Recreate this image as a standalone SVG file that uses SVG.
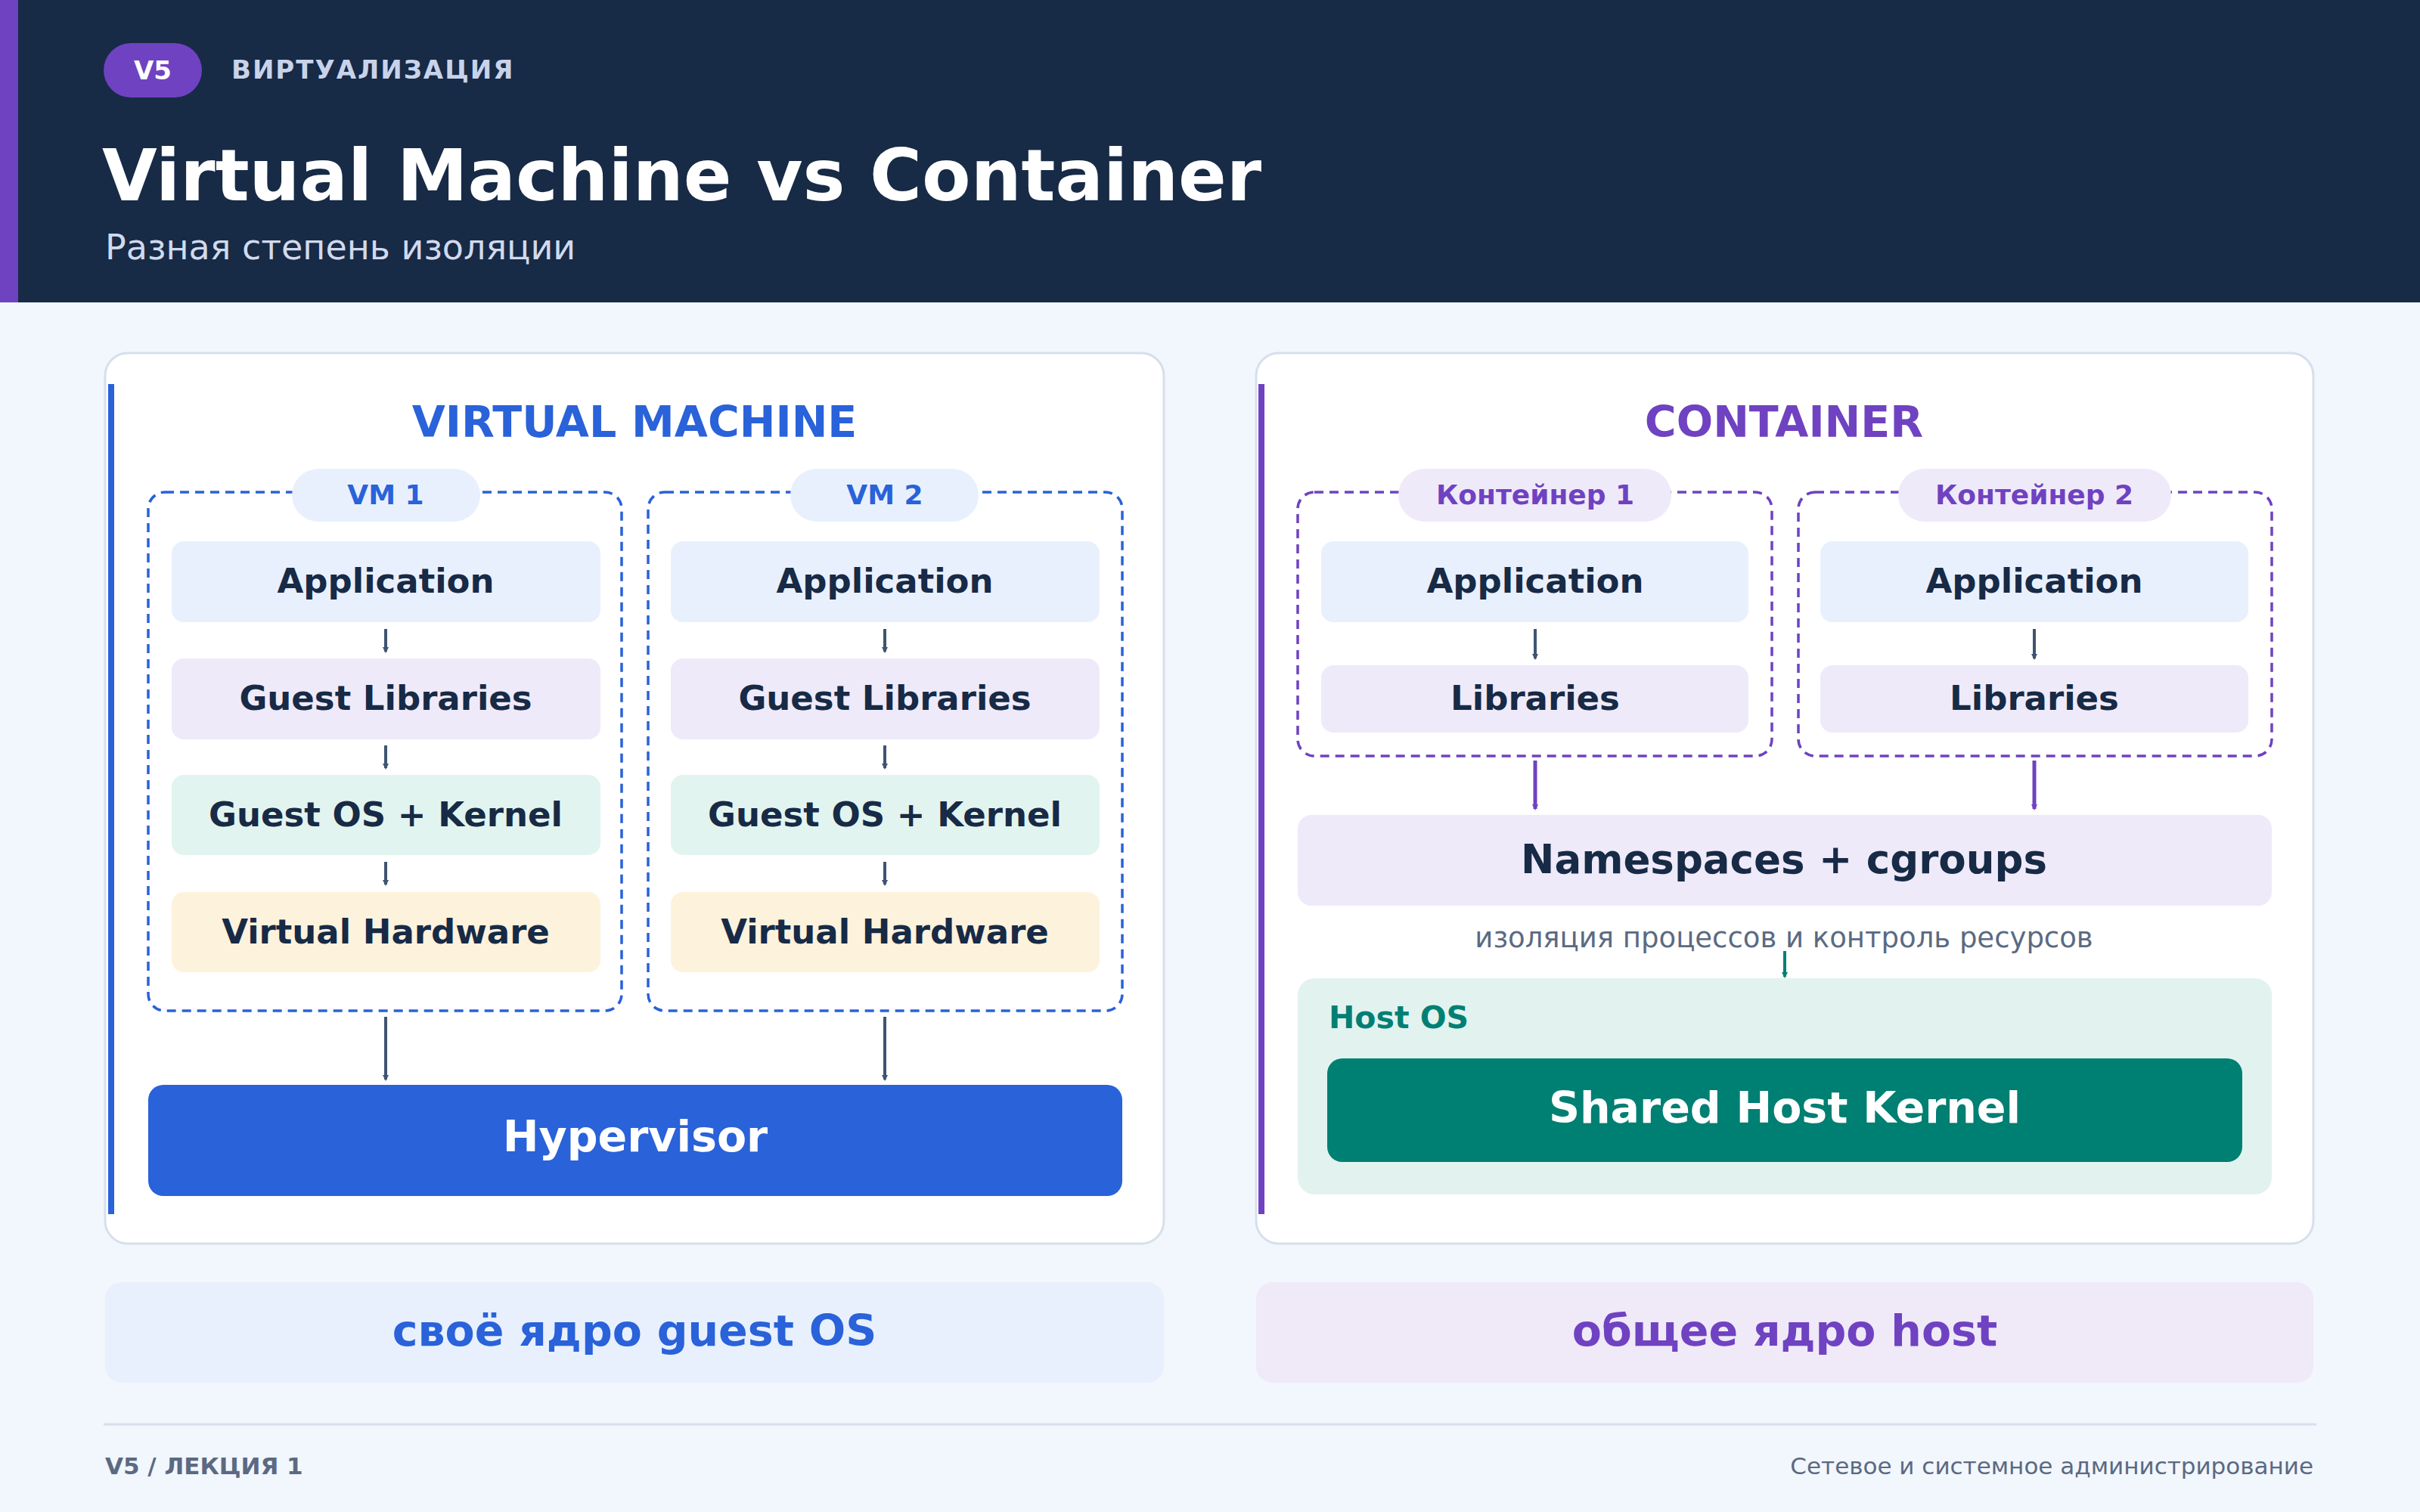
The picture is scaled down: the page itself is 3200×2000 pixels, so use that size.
<svg xmlns="http://www.w3.org/2000/svg" width="3200" height="2000" viewBox="0 0 3200 2000">
<style>
text{font-family:"DejaVu Sans","Noto Sans",sans-serif}
.b{font-weight:bold}
.lay{font-weight:bold;font-size:45px;fill:#172a46;text-anchor:middle}
.panel{fill:#fff;stroke:#d6dfec;stroke-width:3}
.dashB{fill:none;stroke:#2962d9;stroke-width:3.5;stroke-dasharray:12 8}
.dashP{fill:none;stroke:#6f42c1;stroke-width:3.5;stroke-dasharray:12 8}
.app{fill:#e9f0fd}.lib{fill:#efeaf9}.os{fill:#e2f4ef}.hw{fill:#fdf2dc}
.sa{stroke:#3f5472;stroke-width:4;marker-end:url(#ag)}
</style>
<defs>
<marker id="ag" markerWidth="8" markerHeight="8" refX="6" refY="4" orient="auto" markerUnits="userSpaceOnUse" viewBox="0 0 8 8"><path d="M0,0 L8,4 L0,8Z" fill="#3f5472"/></marker>
<marker id="agp" markerWidth="8" markerHeight="8" refX="6" refY="4" orient="auto" viewBox="0 0 8 8" markerUnits="userSpaceOnUse"><path d="M0,0 L8,4 L0,8Z" fill="#6f42c1"/></marker>
<marker id="agt" markerWidth="8" markerHeight="8" refX="6" refY="4" orient="auto" viewBox="0 0 8 8" markerUnits="userSpaceOnUse"><path d="M0,0 L8,4 L0,8Z" fill="#008075"/></marker>
</defs>
<rect width="3200" height="2000" fill="#f2f6fd"/>
<g id="header">
<rect width="3200" height="400" fill="#172a46"/>
<rect width="24" height="400" fill="#6f42c1"/>
<rect x="137" y="57" width="130" height="72" rx="36" fill="#6f42c1"/>
<text x="202" y="105" class="b" font-size="34" fill="#fff" text-anchor="middle">V5</text>
<text x="306" y="104" class="b" font-size="34" fill="#c8d3ea" letter-spacing="2">ВИРТУАЛИЗАЦИЯ</text>
<text x="135" y="265" class="b" font-size="94" fill="#fff">Virtual Machine vs Container</text>
<text x="139" y="343" font-size="46" fill="#d1daec">Разная степень изоляции</text>
</g>
<g id="vm-panel">
<rect class="panel" x="139" y="467" width="1400" height="1178" rx="30"/>
<rect x="143" y="508" width="8" height="1098" fill="#2962d9"/>
<text x="839" y="578" class="b" font-size="57" fill="#2962d9" text-anchor="middle">VIRTUAL MACHINE</text>
</g>
<g id="vm1">
<rect class="dashB" x="196" y="651" width="626" height="686" rx="22"/>
<rect x="386" y="620" width="249" height="70" rx="35" fill="#e9f0fd"/>
<text x="510" y="667" class="b" font-size="36" fill="#2962d9" text-anchor="middle">VM 1</text>
<rect class="app" x="227" y="716" width="567" height="107" rx="16"/><text class="lay" x="510" y="784">Application</text>
<rect class="lib" x="227" y="871" width="567" height="107" rx="16"/><text class="lay" x="510" y="939">Guest Libraries</text>
<rect class="os" x="227" y="1025" width="567" height="106" rx="16"/><text class="lay" x="510" y="1093">Guest OS + Kernel</text>
<rect class="hw" x="227" y="1180" width="567" height="106" rx="16"/><text class="lay" x="510" y="1248">Virtual Hardware</text>
</g>
<g id="vm2">
<rect class="dashB" x="857" y="651" width="627" height="686" rx="22"/>
<rect x="1045" y="620" width="249" height="70" rx="35" fill="#e9f0fd"/>
<text x="1170" y="667" class="b" font-size="36" fill="#2962d9" text-anchor="middle">VM 2</text>
<rect class="app" x="887" y="716" width="567" height="107" rx="16"/><text class="lay" x="1170" y="784">Application</text>
<rect class="lib" x="887" y="871" width="567" height="107" rx="16"/><text class="lay" x="1170" y="939">Guest Libraries</text>
<rect class="os" x="887" y="1025" width="567" height="106" rx="16"/><text class="lay" x="1170" y="1093">Guest OS + Kernel</text>
<rect class="hw" x="887" y="1180" width="567" height="106" rx="16"/><text class="lay" x="1170" y="1248">Virtual Hardware</text>
</g>
<g id="hypervisor">
<rect x="196" y="1435" width="1288" height="147" rx="20" fill="#2962d9"/>
<text x="840" y="1523" class="b" font-size="57" fill="#fff" text-anchor="middle">Hypervisor</text>
</g>
<g id="ct-panel">
<rect class="panel" x="1661" y="467" width="1398" height="1178" rx="30"/>
<rect x="1664" y="508" width="8" height="1098" fill="#6f42c1"/>
<text x="2359" y="578" class="b" font-size="57" fill="#6f42c1" text-anchor="middle">CONTAINER</text>
</g>
<g id="ct1">
<rect class="dashP" x="1716" y="651" width="627" height="349" rx="22"/>
<rect x="1849" y="620" width="361" height="70" rx="35" fill="#efeaf9"/>
<text x="2030" y="667" class="b" font-size="36" fill="#6f42c1" text-anchor="middle">Контейнер 1</text>
<rect class="app" x="1747" y="716" width="565" height="107" rx="16"/><text class="lay" x="2030" y="784">Application</text>
<rect class="lib" x="1747" y="880" width="565" height="89" rx="16"/><text class="lay" x="2030" y="939">Libraries</text>
</g>
<g id="ct2">
<rect class="dashP" x="2378" y="651" width="626" height="349" rx="22"/>
<rect x="2510" y="620" width="361" height="70" rx="35" fill="#efeaf9"/>
<text x="2690" y="667" class="b" font-size="36" fill="#6f42c1" text-anchor="middle">Контейнер 2</text>
<rect class="app" x="2407" y="716" width="566" height="107" rx="16"/><text class="lay" x="2690" y="784">Application</text>
<rect class="lib" x="2407" y="880" width="566" height="89" rx="16"/><text class="lay" x="2690" y="939">Libraries</text>
</g>
<g id="namespaces">
<rect x="1716" y="1078" width="1288" height="120" rx="18" fill="#efeaf9"/>
<text x="2359" y="1155" class="b" font-size="53" fill="#172a46" text-anchor="middle">Namespaces + cgroups</text>
<text x="2359" y="1253" font-size="37" fill="#5a6a82" text-anchor="middle">изоляция процессов и контроль ресурсов</text>
</g>
<g id="hostos">
<rect x="1716" y="1294" width="1288" height="286" rx="22" fill="#e2f3ef"/>
<text x="1757" y="1360" class="b" font-size="41" fill="#008075">Host OS</text>
<rect x="1755" y="1400" width="1210" height="137" rx="20" fill="#007f73"/>
<text x="2360" y="1485" class="b" font-size="57" fill="#fff" text-anchor="middle">Shared Host Kernel</text>
</g>
<g id="connectors">
<line class="sa" x1="510" y1="832" x2="510" y2="862"/>
<line class="sa" x1="510" y1="986" x2="510" y2="1016"/>
<line class="sa" x1="510" y1="1140" x2="510" y2="1170"/>
<line class="sa" x1="1170" y1="832" x2="1170" y2="862"/>
<line class="sa" x1="1170" y1="986" x2="1170" y2="1016"/>
<line class="sa" x1="1170" y1="1140" x2="1170" y2="1170"/>
<line class="sa" x1="510" y1="1345" x2="510" y2="1428" stroke-width="5"/>
<line class="sa" x1="1170" y1="1345" x2="1170" y2="1428" stroke-width="5"/>
<line class="sa" x1="2030" y1="832" x2="2030" y2="871"/>
<line class="sa" x1="2690" y1="832" x2="2690" y2="871"/>
<line x1="2030" y1="1006" x2="2030" y2="1070" stroke="#6f42c1" stroke-width="5" marker-end="url(#agp)"/>
<line x1="2690" y1="1006" x2="2690" y2="1070" stroke="#6f42c1" stroke-width="5" marker-end="url(#agp)"/>
<line x1="2360" y1="1258" x2="2360" y2="1292" stroke="#008075" stroke-width="4" marker-end="url(#agt)"/>
</g>
<g id="notes">
<rect x="139" y="1696" width="1400" height="133" rx="22" fill="#e8f0fd"/>
<text x="839" y="1780" class="b" font-size="57" fill="#2962d9" text-anchor="middle">своё ядро guest OS</text>
<rect x="1661" y="1696" width="1398" height="133" rx="22" fill="#efe9f8"/>
<text x="2360" y="1780" class="b" font-size="57" fill="#6f42c1" text-anchor="middle">общее ядро host</text>
</g>
<g id="footer">
<line x1="137" y1="1884" x2="3063" y2="1884" stroke="#d6dfec" stroke-width="3"/>
<text x="139" y="1950" class="b" font-size="31" fill="#5a6a82">V5 / ЛЕКЦИЯ 1</text>
<text x="3059" y="1950" font-size="31" fill="#5a6a82" text-anchor="end">Сетевое и системное администрирование</text>
</g>
</svg>
